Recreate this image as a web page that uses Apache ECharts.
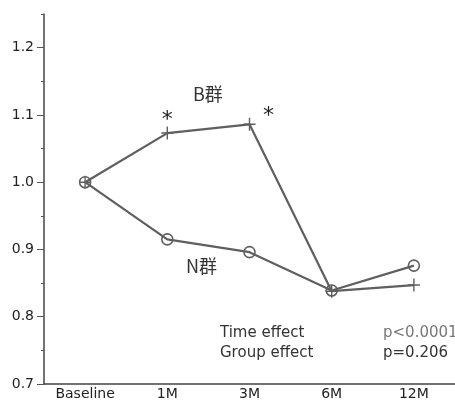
<!DOCTYPE html>
<html>
<head>
<meta charset="utf-8">
<script src="https://cdn.jsdelivr.net/npm/echarts@6/dist/echarts.min.js"></script>
<style>html,body{margin:0;padding:0;background:#fff}#c{width:455px;height:401px}</style>
</head>
<body>
<div id="c"></div>
<script>
var categories = ['Baseline', '1M', '3M', '6M', '12M'];
var groupB = [1.0, 1.073, 1.086, 0.838, 0.847];
var groupN = [1.0, 0.915, 0.896, 0.839, 0.876];
var majorTicks = [0.7, 0.8, 0.9, 1.0, 1.1, 1.2];
var minorTicks = [0.75, 0.85, 0.95, 1.05, 1.15, 1.25];
var starIdx = [1, 2];
var FONT = '"DejaVu Sans", sans-serif';
var CJK = '"Noto Sans CJK JP", sans-serif';
var GREY = '#5f5f5f';

var chart = echarts.init(document.getElementById('c'));
chart.setOption({
  backgroundColor: '#fff',
  animation: false,
  grid: { left: 44, right: -5, top: 14, bottom: 17 },
  xAxis: {
    type: 'category', data: categories, boundaryGap: true,
    axisLine: { lineStyle: { color: '#444', width: 1.5 } },
    axisTick: { show: false },
    axisLabel: { color: '#222', fontSize: 14, fontFamily: FONT, margin: 3 }
  },
  yAxis: [{
    type: 'value', min: 0.7, max: 1.25, interval: 0.1, position: 'left',
    axisLine: { show: true, lineStyle: { color: '#444', width: 1.5 } },
    axisTick: { show: true, length: 7, customValues: majorTicks, lineStyle: { color: '#555' } },
    axisLabel: { customValues: majorTicks, color: '#222', fontSize: 14, fontFamily: FONT, margin: 10,
      formatter: function (v) { return v.toFixed(1); } },
    splitLine: { show: false }
  }, {
    type: 'value', min: 0.7, max: 1.25, interval: 0.05, position: 'left',
    axisLine: { show: false },
    axisTick: { show: true, length: 3, customValues: minorTicks, lineStyle: { color: '#555' } },
    axisLabel: { show: false },
    splitLine: { show: false }
  }],
  series: [{
    name: 'N群', type: 'line', data: groupN,
    symbol: 'circle', symbolSize: 11,
    lineStyle: { color: GREY, width: 2.2 },
    itemStyle: { color: 'rgba(255,255,255,0)', borderColor: GREY, borderWidth: 1.6 },
    z: 2
  }, {
    name: 'B群', type: 'line',
    data: groupB.map(function (v, i) {
      var d = { value: v };
      if (starIdx.indexOf(i) >= 0) {
        d.label = { show: true, formatter: '*', position: 'top',
          offset: i === 1 ? [0, 10] : [19, 14] };
      }
      return d;
    }),
    symbol: 'path://M-0.7,-6 L0.7,-6 L0.7,-0.7 L6,-0.7 L6,0.7 L0.7,0.7 L0.7,6 L-0.7,6 L-0.7,0.7 L-6,0.7 L-6,-0.7 L-0.7,-0.7 Z',
    symbolSize: [12, 13],
    lineStyle: { color: GREY, width: 2.2 },
    itemStyle: { color: GREY },
    label: { color: '#222', fontSize: 22, fontFamily: FONT },
    z: 3
  }],
  graphic: [
    { type: 'text', left: 193, top: 85, style: { text: 'B群', fontSize: 18, fontFamily: CJK, fill: '#333' } },
    { type: 'text', left: 186, top: 257, style: { text: 'N群', fontSize: 18, fontFamily: CJK, fill: '#333' } },
    { type: 'text', left: 220, top: 326, style: { text: 'Time effect', fontSize: 15, fontFamily: FONT, fill: '#333' } },
    { type: 'text', left: 220, top: 346, style: { text: 'Group effect', fontSize: 15, fontFamily: FONT, fill: '#333' } },
    { type: 'text', left: 383, top: 326, style: { text: 'p<0.0001', fontSize: 15, fontFamily: FONT, fill: '#777' } },
    { type: 'text', left: 383, top: 346, style: { text: 'p=0.206', fontSize: 15, fontFamily: FONT, fill: '#333' } }
  ]
});
</script>
</body>
</html>
